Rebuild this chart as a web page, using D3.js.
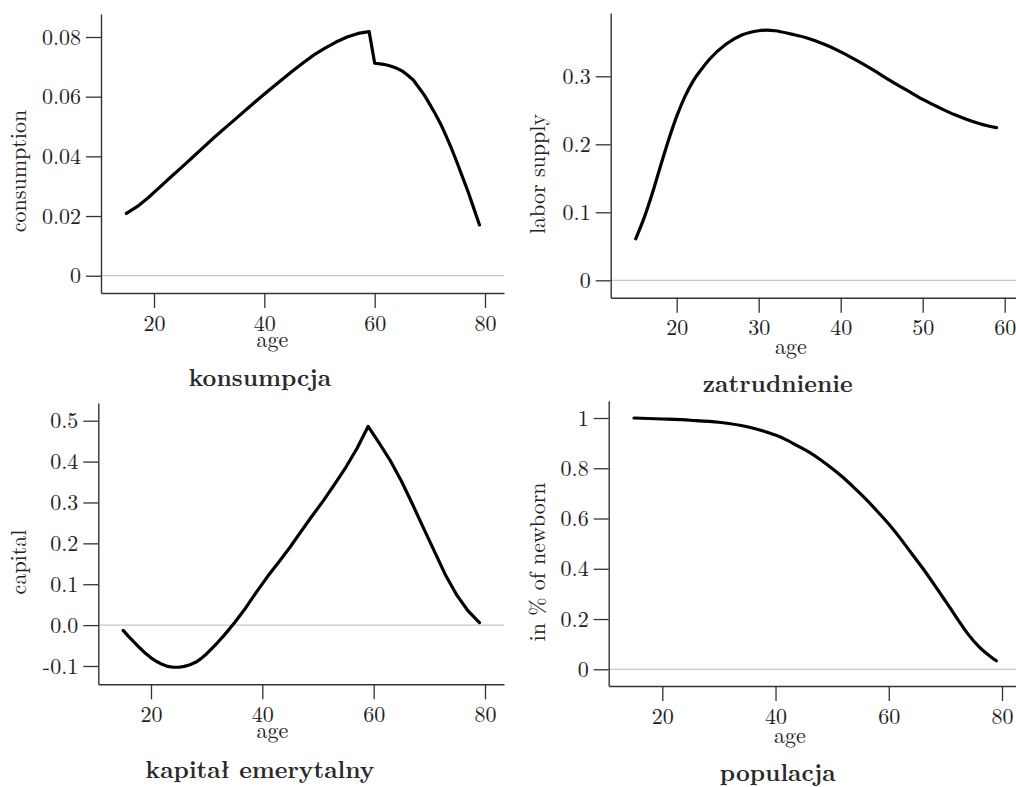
<!DOCTYPE html>
<html>
<head>
<meta charset="utf-8">
<script src="https://cdn.jsdelivr.net/npm/d3@7"></script>
<style>
  html, body { margin: 0; padding: 0; background: #fff; }
  svg { display: block; }
  .serif { font-family: "Latin Modern Roman", "CMU Serif", "Liberation Serif", serif; }
  .title { font-family: "Latin Modern Roman", "CMU Serif", "DejaVu Serif", serif; font-weight: bold; }
</style>
</head>
<body>
<svg id="chart" width="1016" height="787"></svg>
<script>
// ---------- DATA ----------
const agesConsumption = [15,17,19,21,23,25,27,29,31,33,35,37,39,41,43,45,47,49,51,53,55,57,59,60,61,62,63,64,65,66,67,68,69,70,71,72,73,74,75,76,77,78,79];
const consumption = [0.0209,0.0232,0.0262,0.0296,0.0330,0.0363,0.0397,0.0431,0.0465,0.0497,0.0529,0.0561,0.0593,0.0624,0.0654,0.0684,0.0713,0.0740,0.0763,0.0783,0.0800,0.0812,0.0818,0.0712,0.0710,0.0707,0.0702,0.0695,0.0686,0.0672,0.0656,0.0631,0.0605,0.0574,0.0542,0.0507,0.0466,0.0423,0.0376,0.0327,0.0278,0.0224,0.0170];

const agesLabor = [15,16,17,18,19,20,21,22,23,24,26,28,30,31,32,34,36,38,40,42,44,46,48,50,52,54,56,58,59];
const laborSupply = [0.061,0.091,0.127,0.167,0.206,0.241,0.270,0.293,0.310,0.325,0.347,0.361,0.367,0.368,0.367,0.362,0.356,0.347,0.336,0.323,0.309,0.294,0.280,0.266,0.254,0.243,0.234,0.227,0.2245];

const agesCapital = [15,16,17,18,19,20,21,22,23,24,25,26,27,28,29,30,31,32,33,34,35,37,39,41,43,45,47,49,51,53,55,57,59,61,63,65,67,69,71,73,75,77,79];
const capital = [-0.013,-0.028,-0.042,-0.056,-0.069,-0.080,-0.089,-0.096,-0.101,-0.103,-0.103,-0.101,-0.097,-0.091,-0.082,-0.070,-0.056,-0.042,-0.027,-0.011,0.006,0.042,0.082,0.120,0.155,0.191,0.230,0.268,0.305,0.345,0.386,0.432,0.486,0.445,0.402,0.352,0.295,0.236,0.178,0.120,0.072,0.034,0.006];

const agesPopulation = [15,20,25,30,35,38,40,42,44,46,48,50,52,54,56,58,60,62,64,66,68,70,72,74,76,78,79];
const population = [1.0,0.996,0.991,0.983,0.965,0.947,0.932,0.912,0.888,0.863,0.833,0.799,0.762,0.720,0.676,0.628,0.578,0.522,0.462,0.402,0.338,0.272,0.205,0.140,0.088,0.050,0.034];

const xTicksAge = [20,40,60,80];
const xTicksLabor = [20,30,40,50,60];
const yTicksConsumption = [0,0.02,0.04,0.06,0.08];
const yLabelsConsumption = ["0","0.02","0.04","0.06","0.08"];
const yTicksLabor = [0,0.1,0.2,0.3];
const yLabelsLabor = ["0","0.1","0.2","0.3"];
const yTicksCapital = [-0.1,0,0.1,0.2,0.3,0.4,0.5];
const yLabelsCapital = ["-0.1","0.0","0.1","0.2","0.3","0.4","0.5"];
const yTicksPopulation = [0,0.2,0.4,0.6,0.8,1];
const yLabelsPopulation = ["0","0.2","0.4","0.6","0.8","1"];

const titles = ["konsumpcja","zatrudnienie","kapitał emerytalny","populacja"];
const yAxisTitles = ["consumption","labor supply","capital","in % of newborn"];
const xAxisTitle = "age";

// ---------- LAYOUT ----------
const panels = [
  { ages: agesConsumption, values: consumption, xTicks: xTicksAge, yTicks: yTicksConsumption, yLabels: yLabelsConsumption,
    title: titles[0], yTitle: yAxisTitles[0],
    xAnchor: {v:[20,80], p:[154,485]}, xExtent:[101,504],
    yAnchor: {v:[0,0.08], p:[275.7,37]}, yExtent:[293,14],
    yTitlePos:[26,171], agePos:[272.5,347], titlePos:[260,385.5] },
  { ages: agesLabor, values: laborSupply, xTicks: xTicksLabor, yTicks: yTicksLabor, yLabels: yLabelsLabor,
    title: titles[1], yTitle: yAxisTitles[1],
    xAnchor: {v:[20,60], p:[676.7,1004.7]}, xExtent:[610.7,1022],
    yAnchor: {v:[0,0.3], p:[280.3,76.3]}, yExtent:[297.7,13],
    yTitlePos:[545,174], agePos:[791,354], titlePos:[777.7,391.7] },
  { ages: agesCapital, values: capital, xTicks: xTicksAge, yTicks: yTicksCapital, yLabels: yLabelsCapital,
    title: titles[2], yTitle: yAxisTitles[2],
    xAnchor: {v:[20,80], p:[151,485]}, xExtent:[98.3,504],
    yAnchor: {v:[-0.1,0.5], p:[666,420.7]}, yExtent:[684.3,403],
    yTitlePos:[26,562], agePos:[272.5,738], titlePos:[260,777.7] },
  { ages: agesPopulation, values: population, xTicks: xTicksAge, yTicks: yTicksPopulation, yLabels: yLabelsPopulation,
    title: titles[3], yTitle: yAxisTitles[3],
    xAnchor: {v:[20,80], p:[662.3,1002]}, xExtent:[608.7,1022],
    yAnchor: {v:[0,1], p:[669.3,418]}, yExtent:[686,400.7],
    yTitlePos:[545,562], agePos:[790,743], titlePos:[777.7,780.5] }
];

const curves = [d3.curveLinear, d3.curveMonotoneX, d3.curveLinear, d3.curveMonotoneX];

const svg = d3.select("#chart");
svg.append("rect").attr("width",1016).attr("height",787).attr("fill","#fff");

const AXIS_COLOR = "#333";
const TEXT_COLOR = "#222";

panels.forEach((p, i) => {
  const x = d3.scaleLinear().domain(p.xAnchor.v).range(p.xAnchor.p);
  x.domain([x.invert(p.xExtent[0]), x.invert(p.xExtent[1])]).range(p.xExtent);
  const y = d3.scaleLinear().domain(p.yAnchor.v).range(p.yAnchor.p);
  y.domain([y.invert(p.yExtent[0]), y.invert(p.yExtent[1])]).range(p.yExtent);

  const g = svg.append("g");

  // zero reference line
  g.append("line")
    .attr("x1", x.range()[0]).attr("x2", x.range()[1])
    .attr("y1", y(0)).attr("y2", y(0))
    .attr("stroke", "#c8c8c8").attr("stroke-width", 1.2);

  // x axis
  const gx = g.append("g")
    .attr("transform", `translate(0,${p.yExtent[0]})`)
    .call(d3.axisBottom(x).tickValues(p.xTicks).tickFormat(d3.format("d")).tickSize(15).tickSizeOuter(0).tickPadding(7));
  // y axis
  const gy = g.append("g")
    .attr("transform", `translate(${p.xExtent[0]},0)`)
    .call(d3.axisLeft(y).tickValues(p.yTicks).tickFormat((d, k) => p.yLabels[k]).tickSize(15).tickSizeOuter(0).tickPadding(5));

  [gx, gy].forEach(ax => {
    ax.attr("font-family", null).attr("font-size", null);
    ax.select(".domain").attr("stroke", AXIS_COLOR).attr("stroke-width", 1.4);
    ax.selectAll(".tick line").attr("stroke", AXIS_COLOR).attr("stroke-width", 1.3);
    ax.selectAll(".tick text").attr("fill", TEXT_COLOR).attr("class", "serif").style("font-size", "22px");
  });

  // data line
  const data = p.ages.map((a, k) => [a, p.values[k]]);
  g.append("path")
    .datum(data)
    .attr("fill", "none")
    .attr("stroke", "#000")
    .attr("stroke-width", 3.2)
    .attr("stroke-linejoin", "round")
    .attr("stroke-linecap", "round")
    .attr("d", d3.line().x(d => x(d[0])).y(d => y(d[1])).curve(curves[i]));

  // axis titles
  g.append("text")
    .attr("class", "serif")
    .attr("x", p.agePos[0]).attr("y", p.agePos[1])
    .attr("text-anchor", "middle")
    .attr("fill", TEXT_COLOR)
    .style("font-size", "22px")
    .text(xAxisTitle);

  g.append("text")
    .attr("class", "serif")
    .attr("transform", `translate(${p.yTitlePos[0]},${p.yTitlePos[1]}) rotate(-90)`)
    .attr("text-anchor", "middle")
    .attr("fill", TEXT_COLOR)
    .style("font-size", "22px")
    .text(p.yTitle);

  g.append("text")
    .attr("class", "title")
    .attr("x", p.titlePos[0]).attr("y", p.titlePos[1])
    .attr("text-anchor", "middle")
    .attr("fill", "#2a2a2a")
    .style("font-size", "24px")
    .text(p.title);
});
</script>
</body>
</html>
